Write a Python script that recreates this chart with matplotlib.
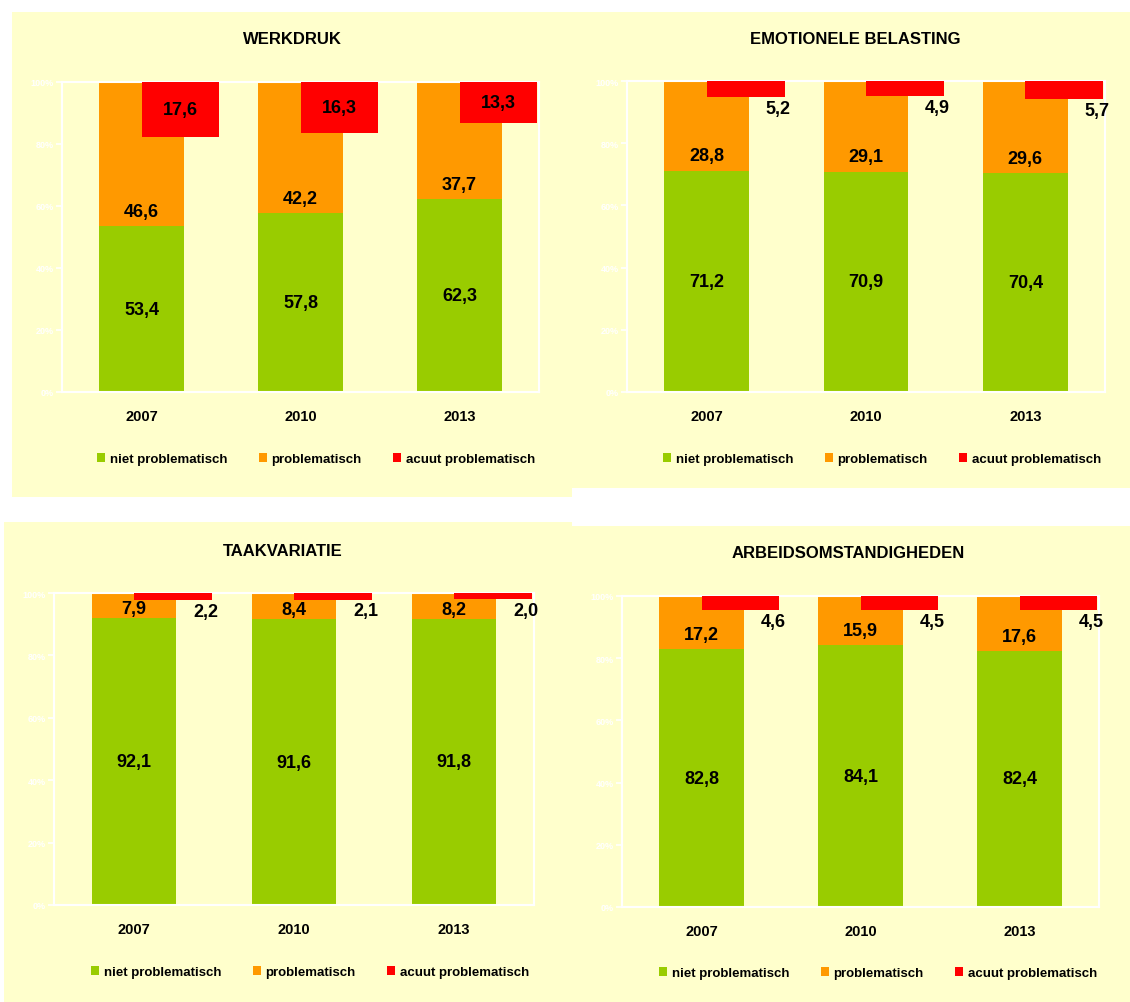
import matplotlib
matplotlib.use("Agg")
import matplotlib.pyplot as plt
from matplotlib.patches import Rectangle, Patch

# ---------------- data ----------------
years = ["2007", "2010", "2013"]

titles = ["WERKDRUK", "EMOTIONELE BELASTING", "TAAKVARIATIE", "ARBEIDSOMSTANDIGHEDEN"]

werkdruk_niet = [53.4, 57.8, 62.3]
werkdruk_prob = [46.6, 42.2, 37.7]
werkdruk_acuut = [17.6, 16.3, 13.3]

emot_niet = [71.2, 70.9, 70.4]
emot_prob = [28.8, 29.1, 29.6]
emot_acuut = [5.2, 4.9, 5.7]

taak_niet = [92.1, 91.6, 91.8]
taak_prob = [7.9, 8.4, 8.2]
taak_acuut = [2.2, 2.1, 2.0]

arbeid_niet = [82.8, 84.1, 82.4]
arbeid_prob = [17.2, 15.9, 17.6]
arbeid_acuut = [4.6, 4.5, 4.5]

legend_labels = ["niet problematisch", "problematisch", "acuut problematisch"]
yticks = [0, 20, 40, 60, 80, 100]

# ---------------- style ----------------
W, H = 1130, 1003
BG = "#FFFFCC"
GREEN = "#99CC00"
ORANGE = "#FF9900"
RED = "#FF0000"
SANS = ["Liberation Sans", "DejaVu Sans"]

fig = plt.figure(figsize=(W / 100, H / 100), dpi=100)
fig.patch.set_facecolor("white")


def fx(x):
    return x / W


def fy(y):
    return 1 - y / H


def bg_rect(x0, y0, x1, y1):
    fig.patches.append(Rectangle((fx(x0), fy(y1)), fx(x1) - fx(x0), fy(y0) - fy(y1),
                                 transform=fig.transFigure, facecolor=BG,
                                 edgecolor="none", zorder=0))


bg_rect(12, 13, 572, 498)
bg_rect(572, 13, 1130, 489)
bg_rect(4, 523, 572, 1003)
bg_rect(572, 527, 1130, 1003)

panels = [
    dict(title=titles[0], niet=werkdruk_niet, prob=werkdruk_prob, acuut=werkdruk_acuut,
         box=(62, 83, 539, 393), title_xy=(292, 40), leg_xy=(316, 460), inside=True),
    dict(title=titles[1], niet=emot_niet, prob=emot_prob, acuut=emot_acuut,
         box=(627, 82, 1105, 393), title_xy=(855, 40), leg_xy=(882, 460), inside=False),
    dict(title=titles[2], niet=taak_niet, prob=taak_prob, acuut=taak_acuut,
         box=(54, 594, 534, 906), title_xy=(283, 551), leg_xy=(310, 973), inside=False),
    dict(title=titles[3], niet=arbeid_niet, prob=arbeid_prob, acuut=arbeid_acuut,
         box=(622, 597, 1099, 908), title_xy=(848, 553), leg_xy=(878, 974), inside=False),
]

VAL_FS = 13

for p in panels:
    x0, y0, x1, y1 = p["box"]
    ax = fig.add_axes([fx(x0), fy(y1), fx(x1) - fx(x0), fy(y0) - fy(y1)])
    ax.set_facecolor(BG)
    ax.set_zorder(2)
    xs = list(range(len(years)))

    ax.bar(xs, p["niet"], width=0.53, color=GREEN, zorder=2)
    ax.bar(xs, p["prob"], bottom=p["niet"], width=0.53, color=ORANGE, zorder=2)
    ax.bar(xs, [-v for v in p["acuut"]], bottom=100, width=0.49, align="edge",
           color=RED, zorder=3)

    ax.set_xlim(-0.5, 2.5)
    ax.set_ylim(0, 100)
    ax.set_xticks(xs)
    ax.set_xticklabels(years, fontsize=10.5, fontweight="bold", family=SANS)
    ax.tick_params(axis="x", length=0, pad=12)
    ax.set_yticks(yticks)
    ax.set_yticklabels([f"{t}%" for t in yticks], fontsize=6.5, fontweight="bold",
                       family=SANS, color="white")
    ax.tick_params(axis="y", length=4, color="white", width=1.2, pad=2)
    for s in ax.spines.values():
        s.set_color("white")
        s.set_linewidth(1.5)

    for i in xs:
        n, pr, ac = p["niet"][i], p["prob"][i], p["acuut"][i]
        ax.text(i, n / 2, f"{n:.1f}".replace(".", ","), ha="center", va="center",
                fontsize=VAL_FS, fontweight="bold", family=SANS, zorder=5)
        ax.text(i, n + min(4.7, pr * 0.37), f"{pr:.1f}".replace(".", ","),
                ha="center", va="center", fontsize=VAL_FS, fontweight="bold",
                family=SANS, zorder=5)
        lab = f"{ac:.1f}".replace(".", ",")
        if p["inside"]:
            ax.text(i + 0.245, 100 - ac / 2, lab, ha="center", va="center",
                    fontsize=VAL_FS, fontweight="bold", family=SANS, zorder=5)
        else:
            ax.annotate(lab, xy=(i + 0.45, 100 - ac), xytext=(0, -2),
                        textcoords="offset points", ha="center", va="top",
                        fontsize=VAL_FS, fontweight="bold", family=SANS, zorder=5)

    fig.text(fx(p["title_xy"][0]), fy(p["title_xy"][1]), p["title"], ha="center",
             va="center", fontsize=12, fontweight="bold", family=SANS)

    handles = [Patch(facecolor=c, edgecolor="none") for c in (GREEN, ORANGE, RED)]
    fig.legend(handles, legend_labels, loc="center",
               bbox_to_anchor=(fx(p["leg_xy"][0]), fy(p["leg_xy"][1])),
               ncol=3, frameon=False, handlelength=0.6, handleheight=0.6,
               handletextpad=0.35, columnspacing=2.4,
               prop=dict(family=SANS, weight="bold", size=9.5))

fig.savefig("out.png", dpi=100, facecolor=fig.get_facecolor())
